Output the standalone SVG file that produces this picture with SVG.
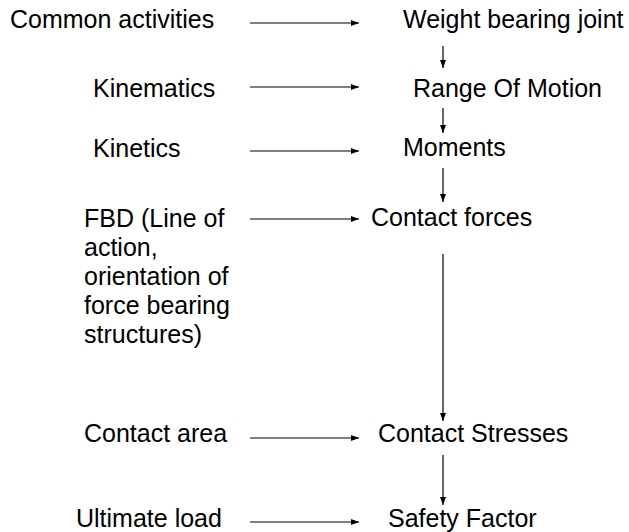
<svg xmlns="http://www.w3.org/2000/svg" width="629" height="532" viewBox="0 0 629 532">
<defs>
<marker id="ah" viewBox="0 0 8 6" refX="8" refY="3" markerWidth="8" markerHeight="6" markerUnits="userSpaceOnUse" orient="auto">
<path d="M0,0 L8,3 L0,6 Z" fill="#000"/>
</marker>
<style>
text{font-family:"Liberation Sans",Arial,sans-serif;font-size:25px;fill:#000}
.c line{stroke:#000;stroke-width:1.2;marker-end:url(#ah)}
</style>
</defs>
<rect width="629" height="532" fill="#fff"/>
<g id="n-common"><text x="10" y="28">Common activities</text></g>
<g id="n-kinematics"><text x="93" y="97">Kinematics</text></g>
<g id="n-kinetics"><text x="93" y="157">Kinetics</text></g>
<g id="n-fbd"><text x="84" y="227">FBD (Line of</text><text x="84" y="256">action,</text><text x="84" y="285">orientation of</text><text x="84" y="314">force bearing</text><text x="84" y="343">structures)</text></g>
<g id="n-area"><text x="84" y="442">Contact area</text></g>
<g id="n-ultimate"><text x="76" y="527">Ultimate load</text></g>
<g id="n-weight"><text x="403" y="28">Weight bearing joint</text></g>
<g id="n-rom"><text x="413" y="97">Range Of Motion</text></g>
<g id="n-moments"><text x="403" y="156">Moments</text></g>
<g id="n-forces"><text x="371" y="226">Contact forces</text></g>
<g id="n-stresses"><text x="378" y="442">Contact Stresses</text></g>
<g id="n-safety"><text x="388" y="527">Safety Factor</text></g>
<g id="connectors" class="c">
<line x1="250" y1="23" x2="359" y2="23"/>
<line x1="250" y1="87" x2="359" y2="87"/>
<line x1="250" y1="151" x2="359" y2="151"/>
<line x1="250" y1="219" x2="359" y2="219"/>
<line x1="250" y1="438" x2="359" y2="438"/>
<line x1="250" y1="522" x2="359" y2="522"/>
<line x1="443" y1="46" x2="443" y2="68"/>
<line x1="443" y1="108" x2="443" y2="133"/>
<line x1="443" y1="168" x2="443" y2="202"/>
<line x1="443" y1="254" x2="443" y2="421"/>
<line x1="443" y1="455" x2="443" y2="505"/>
</g>
</svg>
